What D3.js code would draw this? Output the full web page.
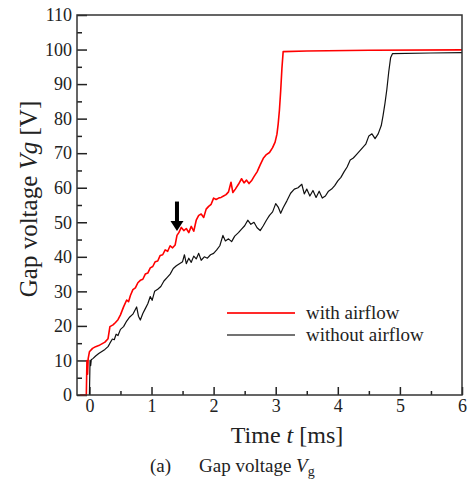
<!DOCTYPE html>
<html lang="en">
<head>
<meta charset="UTF-8">
<title>Gap voltage Vg</title>
<style>
    body { margin: 0; background: #fff; }
    svg { display: block; font-family: "Liberation Serif", "Times New Roman", serif; }
    .axis text { font-size: 18px; fill: #222; font-family: "Liberation Serif", serif; }
    .axis line { stroke: #222; stroke-width: 1.5; }
    .axis path { display: none; }
</style>
<script src="https://d3js.org/d3.v7.min.js"></script>
</head>
<body>
<div id="chart"></div>
<script>
// [time ms, voltage V]
var withAirflow = [
  [-0.15,0],[-0.05,0],[-0.04,10],[-0.03,6],[-0.02,10.5],[0.0,12.5],[0.05,13.5],[0.1,14],[0.15,14.3],
  [0.2,14.8],[0.25,15.3],[0.3,16.3],[0.33,19.8],[0.38,20.3],[0.42,21],[0.46,21.8],[0.5,23.2],
  [0.55,25.5],[0.6,27.5],[0.63,27],[0.66,28.8],[0.7,30.5],[0.74,31],[0.78,32.5],[0.82,33.2],
  [0.86,33.5],[0.9,35],[0.94,35.3],[0.98,36.8],[1.02,37.2],[1.06,38.6],[1.1,38.8],[1.14,40.4],
  [1.18,40.6],[1.22,42],[1.26,41.6],[1.3,43.2],[1.34,42.6],[1.38,43.4],[1.41,46.2],[1.44,47],
  [1.48,48.5],[1.52,47.6],[1.56,48.2],[1.6,47],[1.64,48.8],[1.68,47.4],[1.72,50.6],[1.76,52],
  [1.8,52.4],[1.84,51.4],[1.88,53.8],[1.92,54.6],[1.96,55.2],[2.0,57],[2.04,56.6],[2.08,57],
  [2.12,57.2],[2.16,57.6],[2.2,58],[2.24,58.8],[2.28,61.6],[2.31,58.6],[2.35,59.6],[2.4,61],
  [2.45,62.6],[2.49,61.4],[2.53,62.2],[2.57,61.2],[2.61,62],[2.65,63.2],[2.7,64.6],[2.75,66.6],
  [2.8,68.5],[2.85,69.6],[2.9,70.2],[2.95,71.6],[2.99,73.2],[3.02,75.5],[3.04,78.5],[3.06,82.5],
  [3.08,88],[3.1,94.5],[3.12,99.4],[3.5,99.6],[4.5,99.8],[6,99.9]
];
var withoutAirflow = [
  [0.0,0],[0.01,10],[0.02,8.5],[0.03,10.2],[0.06,10.6],[0.1,11.3],[0.15,12],[0.2,12.6],[0.25,13.2],
  [0.3,14],[0.33,15],[0.37,16.2],[0.4,16],[0.43,17.6],[0.46,17.2],[0.5,19],[0.55,19.8],[0.6,21.4],
  [0.65,22.6],[0.7,23.4],[0.76,25.5],[0.79,22.8],[0.82,21.7],[0.86,23.6],[0.9,25],[0.94,26.4],
  [0.98,28.5],[1.01,27.4],[1.05,30],[1.1,30.6],[1.15,31.4],[1.2,33],[1.25,34],[1.3,35],
  [1.35,36.6],[1.4,37.4],[1.45,38],[1.5,38.6],[1.53,40.6],[1.56,38],[1.6,39.6],[1.64,38.4],
  [1.68,40.2],[1.72,39.4],[1.76,41],[1.8,39],[1.85,40],[1.9,39.6],[1.95,40.6],[2.0,41],
  [2.05,42],[2.1,43.2],[2.15,46.2],[2.19,44.6],[2.24,45.2],[2.29,44.4],[2.34,46],[2.4,47],
  [2.45,48],[2.5,49],[2.55,50.6],[2.6,49.4],[2.65,50],[2.7,48.4],[2.75,47.6],[2.8,49],
  [2.85,50.6],[2.9,52],[2.95,53],[3.0,55.4],[3.04,54.4],[3.08,52.6],[3.12,54.2],[3.18,56.2],
  [3.24,58.4],[3.3,59.6],[3.36,60],[3.42,61],[3.46,58.2],[3.5,59.6],[3.55,57.6],[3.6,59.2],
  [3.65,57.2],[3.7,59],[3.75,57],[3.8,57.6],[3.85,59],[3.9,59.6],[3.95,60.6],[4.0,62],
  [4.05,63],[4.1,64.6],[4.15,66],[4.2,68],[4.25,68.6],[4.3,69.6],[4.35,70.6],[4.4,71.6],
  [4.45,72.6],[4.5,75],[4.55,75.6],[4.6,74.2],[4.65,75.6],[4.7,78],[4.73,81],[4.76,84.5],
  [4.79,88.5],[4.82,93.5],[4.85,97.6],[4.88,98.8],[5.5,99],[6,99.1]
];
var xTicks = [0, 1, 2, 3, 4, 5, 6];
var yTicks = [0, 10, 20, 30, 40, 50, 60, 70, 80, 90, 100, 110];
var legendLabels = ["with airflow", "without airflow"];
var arrowAt = [1.41, 56, 47.5]; // time, top, tip

var W = 468, H = 484;
var pLeft = 77, pRight = 462, pTop = 15, pBottom = 395;

var svg = d3.select("#chart").append("svg")
    .attr("width", W).attr("height", H);

var x = d3.scaleLinear().domain([-0.2, 6]).range([pLeft, pRight]);
var y = d3.scaleLinear().domain([0, 110]).range([pBottom, pTop]);

// minor ticks
svg.append("g").attr("class", "axis")
    .attr("transform", "translate(0," + pBottom + ")")
    .call(d3.axisBottom(x).tickValues(d3.range(0.5, 6, 1)).tickSizeInner(-4).tickSizeOuter(0).tickFormat(""));
svg.append("g").attr("class", "axis")
    .attr("transform", "translate(" + pLeft + ",0)")
    .call(d3.axisLeft(y).tickValues(d3.range(5, 110, 10)).tickSizeInner(-5).tickSizeOuter(0).tickFormat(""));

// major ticks
svg.append("g").attr("class", "axis")
    .attr("transform", "translate(0," + pBottom + ")")
    .call(d3.axisBottom(x).tickValues(xTicks).tickSizeInner(-8).tickSizeOuter(0).tickPadding(4).tickFormat(d3.format("d")));
svg.append("g").attr("class", "axis")
    .attr("transform", "translate(" + pLeft + ",0)")
    .call(d3.axisLeft(y).tickValues(yTicks).tickSizeInner(-10).tickSizeOuter(0).tickPadding(5).tickFormat(d3.format("d")));

var line = d3.line().x(function(d) { return x(d[0]); }).y(function(d) { return y(d[1]); });

svg.append("path").datum(withoutAirflow)
    .attr("d", line).attr("fill", "none")
    .attr("stroke", "#111").attr("stroke-width", 1.2).attr("stroke-linejoin", "round");
svg.append("path").datum(withAirflow)
    .attr("d", line).attr("fill", "none")
    .attr("stroke", "#ff0000").attr("stroke-width", 1.6).attr("stroke-linejoin", "round");

// frame
svg.append("rect")
    .attr("x", pLeft).attr("y", pTop)
    .attr("width", pRight - pLeft).attr("height", pBottom - pTop)
    .attr("fill", "none").attr("stroke", "#333").attr("stroke-width", 1.5);

// arrow
var ax = x(arrowAt[0]), aTop = y(arrowAt[1]), aTip = y(arrowAt[2]);
svg.append("rect").attr("x", ax - 2).attr("y", aTop).attr("width", 4).attr("height", aTip - aTop - 9).attr("fill", "#000");
svg.append("path")
    .attr("d", "M" + (ax - 6.5) + "," + (aTip - 10) + "L" + (ax + 6.5) + "," + (aTip - 10) + "L" + ax + "," + aTip + "Z")
    .attr("fill", "#000");

// legend
var legColors = ["#ff2a2a", "#444"];
legendLabels.forEach(function(lab, i) {
    var ly = 313 + i * 22;
    svg.append("line").attr("x1", 227).attr("x2", 295).attr("y1", ly).attr("y2", ly)
        .attr("stroke", legColors[i]).attr("stroke-width", i === 0 ? 2 : 1.5);
    svg.append("text").attr("x", 306).attr("y", ly + 6)
        .style("font-size", "19px").attr("fill", "#222").text(lab);
});

// axis titles
var xt = svg.append("text").attr("x", 287).attr("y", 443).attr("text-anchor", "middle")
    .style("font-size", "24px").attr("fill", "#222");
xt.append("tspan").text("Time ");
xt.append("tspan").style("font-style", "italic").text("t");
xt.append("tspan").text(" [ms]");

var yt = svg.append("text").attr("transform", "translate(37,199) rotate(-90)").attr("text-anchor", "middle")
    .style("font-size", "25px").attr("fill", "#222");
yt.append("tspan").text("Gap voltage ");
yt.append("tspan").style("font-style", "italic").text("Vg");
yt.append("tspan").text(" [V]");

// caption
svg.append("text").attr("x", 150).attr("y", 472).style("font-size", "19px").attr("fill", "#222").text("(a)");
var cap = svg.append("text").attr("x", 199).attr("y", 472).style("font-size", "19px").attr("fill", "#222");
cap.append("tspan").text("Gap voltage ");
cap.append("tspan").style("font-style", "italic").text("V");
cap.append("tspan").attr("dy", 4).style("font-size", "14px").text("g");
</script>
</body>
</html>
